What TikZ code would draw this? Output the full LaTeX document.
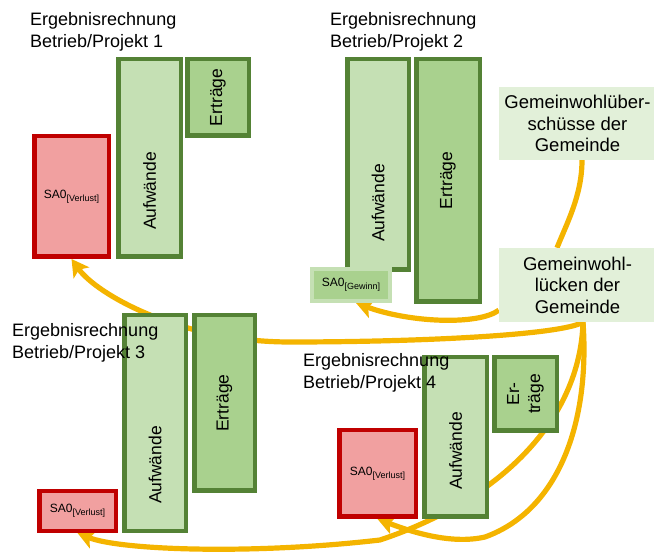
\documentclass[tikz,border=0pt]{standalone}
\usepackage{fontspec}
\setmainfont{Liberation Sans}
\usepackage{graphicx}
\usetikzlibrary{arrows.meta,backgrounds}
\definecolor{auffill}{RGB}{197,224,180}
\definecolor{ertfill}{RGB}{169,209,142}
\definecolor{boxline}{RGB}{84,130,53}
\definecolor{lossfill}{RGB}{241,160,160}
\definecolor{lossline}{RGB}{192,0,0}
\definecolor{gwfill}{RGB}{226,240,217}
\definecolor{flow}{RGB}{244,180,0}
\newcommand{\saldo}[1]{SA0\raisebox{-3pt}{\fontsize{9}{10}\selectfont[#1]}}

\begin{document}
\begin{tikzpicture}[x=1pt,y=-1pt,
  konto/.style={draw=boxline,line width=4.5pt,inner sep=0pt,font=\fontsize{17.5}{21}\selectfont},
  aufw/.style={konto,fill=auffill},
  ertr/.style={konto,fill=ertfill},
  verlust/.style={draw=lossline,fill=lossfill,line width=4.5pt,inner sep=0pt,font=\fontsize{12}{14}\selectfont},
  gewinn/.style={draw=auffill,fill=ertfill,line width=4pt,inner sep=0pt,font=\fontsize{12}{14}\selectfont},
  gemeinwohl/.style={fill=gwfill,inner sep=0pt,align=center,minimum width=157pt,font=\fontsize{18.5}{21.5}\selectfont},
  titel/.style={anchor=north west,inner sep=0pt,align=left,font=\fontsize{18}{22}\selectfont},
  kontotext/.style={rotate=90,inner sep=0pt,font=\fontsize{17.5}{21}\selectfont},
  flussline/.style={draw=flow,line width=5.2pt},
  fluss/.style={flussline,-{Stealth[length=17pt,width=19pt,inset=4pt]}}
]
  \useasboundingbox (0,0) rectangle (654,553);

  \node[verlust,minimum width=74.5pt,minimum height=120.5pt] (sa1) at (71.5,196.5) {\saldo{Verlust}};
  \node[aufw,minimum width=62.5pt,minimum height=197.5pt] (auf1) at (149.5,158) {};
  \node[ertr,minimum width=61.5pt,minimum height=76.5pt] (ert1) at (218,97.5) {\rotatebox{90}{Erträge}};
  \node[kontotext] (auf1text) at (149.5,191) {Aufwände};

  \node[aufw,minimum width=61.5pt,minimum height=210.5pt] (auf2) at (378,164.5) {};
  \node[ertr,minimum width=63.5pt,minimum height=242.5pt] (ert2) at (448,180.5) {\rotatebox{90}{Erträge}};
  \node[gewinn,minimum width=78pt,minimum height=32pt] (gew) at (351,285) {\saldo{Gewinn}};
  \node[kontotext] (auf2text) at (378,203) {Aufwände};

  \node[gemeinwohl,minimum height=73pt] (ueber) at (577.5,123.5) {Gemeinwohlüber-\\schüsse der\\Gemeinde};
  \node[gemeinwohl,minimum height=74pt] (lueck) at (577.5,285) {Gemeinwohl-\\lücken der\\Gemeinde};

  \node[aufw,minimum width=61.5pt,minimum height=215.5pt] (auf3) at (155,423) {};
  \node[ertr,minimum width=60.5pt,minimum height=175.5pt] (ert3) at (224.5,403) {\rotatebox{90}{Erträge}};
  \node[verlust,minimum width=76.5pt,minimum height=39.5pt] (sa3) at (77.5,511) {\saldo{Verlust}};
  \node[kontotext] (auf3text) at (155,465) {Aufwände};

  \node[verlust,minimum width=76.5pt,minimum height=86.5pt] (sa4) at (377.5,473.5) {\saldo{Verlust}};
  \node[aufw,minimum width=62.5pt,minimum height=159.5pt] (auf4) at (455.5,437) {};
  \node[ertr,minimum width=62.5pt,minimum height=73.5pt] (ert4) at (525.5,394) {\rotatebox{90}{\begin{tabular}{@{}c@{}}Er-\\träge\end{tabular}}};
  \node[kontotext] (auf4text) at (455.5,451) {Aufwände};

  \node[titel] (titel1) at (30,12) {Ergebnisrechnung\\Betrieb/Projekt 1};
  \node[titel] (titel2) at (330,12) {Ergebnisrechnung\\Betrieb/Projekt 2};
  \node[titel] (titel3) at (12,323) {Ergebnisrechnung\\Betrieb/Projekt 3};
  \node[titel] (titel4) at (303,353) {Ergebnisrechnung\\Betrieb/Projekt 4};

  \begin{scope}[on background layer]
    \draw[flussline] ([xshift=4.5pt]ueber.south) .. controls +(0,35) and +(10,-25) .. ([xshift=-20.5pt]lueck.north);
    \draw[fluss] ([yshift=12pt]lueck.south west) .. controls +(-20,15) and +(55,20) .. ([xshift=5pt]gew.south);
    \draw[fluss] ([xshift=5.5pt]lueck.south) .. controls +(-23,13) and +(130,0) .. (290,342)
      .. controls +(-110,0) and +(25,35) .. (sa1.south);
    \draw[fluss] ([xshift=5.5pt]lueck.south) .. controls +(7,98) and +(75,-27) .. (485,537)
      .. controls +(-35,8) and +(32,12) .. (sa4.south);
    \draw[fluss] ([xshift=5.5pt]lueck.south) .. controls +(-3,98) and +(120,-40) .. (380,540)
      .. controls +(-130,15) and +(42,17) .. (sa3.south);
  \end{scope}
\end{tikzpicture}
\end{document}
